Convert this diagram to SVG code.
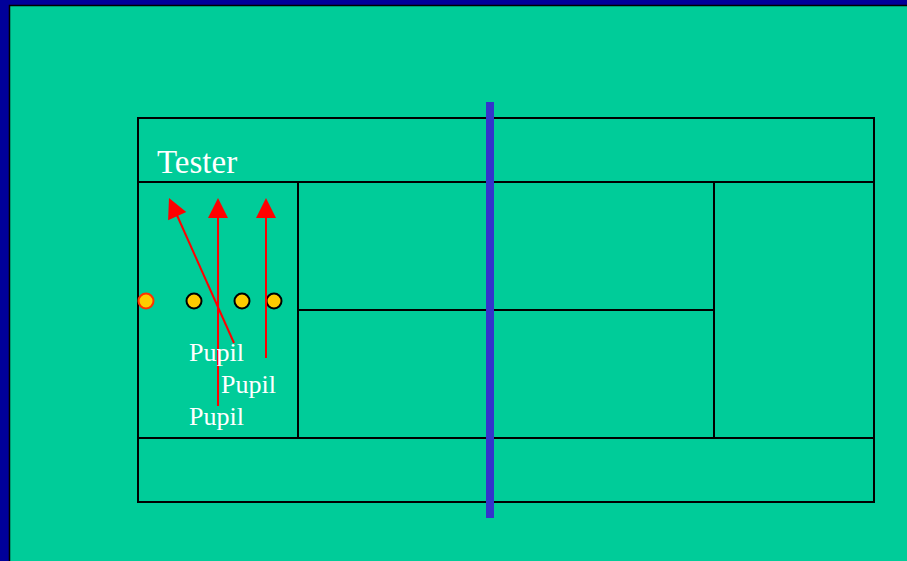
<svg xmlns="http://www.w3.org/2000/svg" width="907" height="561" viewBox="0 0 907 561">
<style>
.ln{stroke:#000;stroke-width:2;fill:none}
.ar{stroke:#FF0000;stroke-width:2;fill:none}
.head{fill:#FF0000}
.txt{font-family:"Liberation Serif",serif;fill:#fff}
.ball{fill:#FFCC00;stroke:#000;stroke-width:2}
</style>
<rect x="0" y="0" width="907" height="561" fill="#000099"/>
<rect x="9.5" y="5.5" width="900" height="560" fill="#00CC99" stroke="#000" stroke-width="1.5"/>
<g id="court">
<rect class="ln" x="138" y="118" width="736" height="384"/>
<line class="ln" x1="138" y1="182" x2="874" y2="182"/>
<line class="ln" x1="138" y1="438" x2="874" y2="438"/>
<line class="ln" x1="298" y1="182" x2="298" y2="438"/>
<line class="ln" x1="714" y1="182" x2="714" y2="438"/>
<line class="ln" x1="298" y1="310" x2="714" y2="310"/>
</g>
<g id="net"><rect x="486" y="102" width="8" height="416" fill="#3333CC"/></g>
<g id="tester"><text class="txt" x="157" y="173" font-size="33">Tester</text></g>
<g id="balls">
<circle cx="146" cy="301" r="7.5" fill="#FFCC00" stroke="#FF3300" stroke-width="2"/>
<circle class="ball" cx="194" cy="301" r="7.5"/>
<circle class="ball" cx="242" cy="301" r="7.5"/>
<circle class="ball" cx="274" cy="301" r="7.5"/>
</g>
<g id="connectors">
<line class="ar" x1="234" y1="343" x2="176" y2="213"/>
<polygon class="head" points="169,198 186.3,212.1 168.1,220.3"/>
<line class="ar" x1="218" y1="406" x2="218" y2="214"/>
<polygon class="head" points="218,198 228,218 208,218"/>
<line class="ar" x1="266" y1="358" x2="266" y2="214"/>
<polygon class="head" points="266,198 276,218 256,218"/>
</g>
<g id="pupils">
<text class="txt" x="189" y="361" font-size="26">Pupil</text>
<text class="txt" x="221" y="393" font-size="26">Pupil</text>
<text class="txt" x="189" y="425" font-size="26">Pupil</text>
</g>
</svg>
